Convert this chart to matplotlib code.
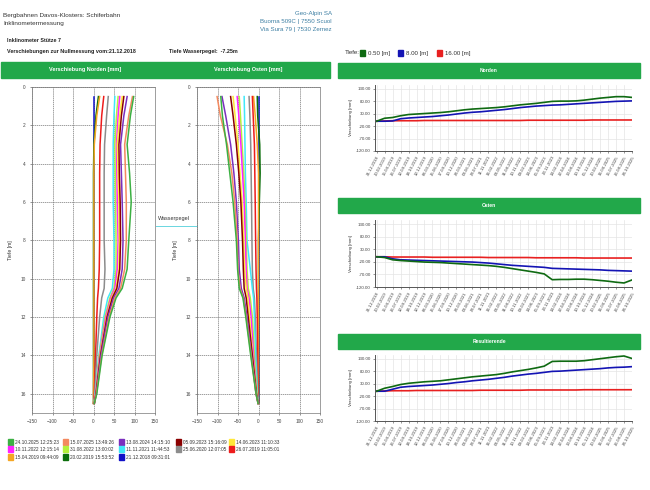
import matplotlib.pyplot as plt
import matplotlib.transforms as mtransforms
from matplotlib.patches import Rectangle

plt.rcParams['font.family'] = ['Liberation Sans', 'DejaVu Sans']

W, H = 650, 490  # Bildgroesse in Pixel

# ---- Profil-Daten (Tiefe in m, Verschiebung in mm) ----
depth = [0.5, 1.5, 3, 4.5, 6, 8, 9.5, 10.5, 11, 12, 14, 16, 16.5]

mess_dates = ['24.10.2025 12:25:23', '15.07.2025 13:49:26', '13.08.2024 14:15:10',
              '05.09.2023 15:16:09', '14.06.2023 11:10:33', '10.11.2022 12:15:14',
              '31.08.2022 13:00:02', '11.11.2021 11:44:53', '25.06.2020 12:07:05',
              '26.07.2019 11:05:01', '15.04.2019 09:44:09', '20.02.2019 15:53:52',
              '21.12.2018 09:31:01']
mess_colors = ['#3cb043', '#f4895f', '#7b2fbe', '#8b0000', '#ffe83a', '#ff22ff',
               '#b4f03c', '#40e8f8', '#8c8c8c', '#ee1c1c', '#f5a623', '#0b6e0b',
               '#1010c8']

# Norden
nord_20251024 = [98, 90, 82, 88, 92, 86, 82, 70, 55, 40, 21, 8, 2]
nord_20250715 = [95, 86, 76, 78, 80, 80, 76, 66, 52, 38, 20, 7, 2]
nord_20240813 = [82, 74, 66, 68, 70, 72, 70, 62, 49, 35, 18, 7, 2]
nord_20230905 = [74, 68, 62, 63, 65, 66, 64, 57, 46, 33, 17, 6, 2]
nord_20230614 = [70, 64, 58, 60, 62, 63, 62, 55, 44, 32, 16, 6, 2]
nord_20221110 = [64, 60, 56, 57, 58, 60, 58, 52, 42, 30, 15, 5, 2]
nord_20220831 = [60, 56, 52, 53, 54, 55, 55, 50, 40, 28, 14, 5, 1]
nord_20211111 = [52, 50, 48, 48, 48, 50, 50, 46, 35, 25, 13, 4, 1]
nord_20200625 = [36, 32, 27, 26, 26, 26, 28, 26, 20, 15, 8, 3, 1]
nord_20190726 = [25, 20, 16, 15, 15, 15, 14, 12, 10, 8, 5, 2, 0]
nord_20190415 = [15, 8, 2, 1, 1, 1, 1, 1, 1, 1, 1, 0, 0]
nord_20190220 = [12, 6, 1, 0, 0, 0, 0, 0, 0, 0, 0, 0, 0]
nord_20181221 = [0, 0, 0, 0, 0, 0, 0, 0, 0, 0, 0, 0, 0]

# Osten
ost_20251024 = [-92, -88, -78, -70, -62, -54, -51, -47, -38, -31, -19, -6, -1]
ost_20250715 = [-101, -93, -76, -65, -58, -52, -50, -45, -37, -30, -18, -6, -1]
ost_20240813 = [-89, -80, -68, -60, -54, -49, -47, -42, -35, -28, -17, -6, -1]
ost_20230905 = [-68, -62, -54, -48, -43, -39, -37, -35, -30, -25, -15, -5, -1]
ost_20230614 = [-62, -57, -50, -45, -40, -36, -34, -30, -26, -22, -14, -5, -1]
ost_20221110 = [-52, -48, -43, -39, -35, -32, -30, -28, -23, -18, -12, -5, -1]
ost_20220831 = [-47, -44, -40, -36, -33, -30, -28, -25, -20, -15, -10, -4, -1]
ost_20211111 = [-35, -34, -33, -32, -30, -28, -20, -15, -12, -10, -7, -3, -1]
ost_20200625 = [-23, -21, -19, -18, -17, -16, -15, -13, -10, -8, -5, -2, 0]
ost_20190726 = [-15, -13, -10, -9, -8, -7, -6, -5, -4, -3, -2, -1, 0]
ost_20190415 = [-12, -8, -3, 0, 0, 0, 0, 0, 0, 0, 0, 0, 0]
ost_20190220 = [-3, -2, 3, 4, 2, 0, 0, 0, 0, 0, 0, 0, 0]
ost_20181221 = [0, 0, 0, 0, 0, 0, 0, 0, 0, 0, 0, 0, 0]

nord_profiles = [nord_20251024, nord_20250715, nord_20240813, nord_20230905, nord_20230614,
                 nord_20221110, nord_20220831, nord_20211111, nord_20200625, nord_20190726,
                 nord_20190415, nord_20190220, nord_20181221]
ost_profiles = [ost_20251024, ost_20250715, ost_20240813, ost_20230905, ost_20230614,
                ost_20221110, ost_20220831, ost_20211111, ost_20200625, ost_20190726,
                ost_20190415, ost_20190220, ost_20181221]

# ---- Zeitreihen (Tiefe 0.50 / 8.00 / 16.00 m) ----
ts_dates = ['21.12.2018', '20.02.2019', '15.04.2019', '26.07.2019', '12.09.2019', '18.10.2019',
            '12.12.2019', '06.03.2020', '25.06.2020', '17.09.2020', '10.12.2020', '24.03.2021',
            '08.06.2021', '28.07.2021', '11.11.2021', '16.02.2022', '04.05.2022', '31.08.2022',
            '10.11.2022', '09.02.2023', '14.06.2023', '05.09.2023', '23.11.2023', '14.02.2024',
            '22.04.2024', '13.08.2024', '10.10.2024', '05.12.2024', '20.02.2025', '16.04.2025',
            '15.07.2025', '26.08.2025', '24.10.2025']

n_050 = [0, 12, 15, 22, 27, 29, 31, 33, 35, 38, 42, 46, 49, 51, 53, 55, 58, 62, 66, 69, 72,
         76, 80, 81, 81, 82, 85, 89, 93, 96, 99, 99, 96]
n_800 = [0, 0, 1, 10, 13, 15, 17, 19, 22, 25, 29, 33, 36, 38, 41, 44, 47, 51, 55, 58, 61,
         63, 65, 66, 68, 70, 72, 74, 76, 78, 80, 81, 82]
n_1600 = [0, 1, 2, 2, 2, 2, 3, 3, 3, 3, 3, 3, 3, 3, 3, 3, 3, 3, 3, 4, 4, 4, 4, 4, 4, 4, 4,
          5, 5, 5, 5, 5, 5]

o_050 = [0, -3, -12, -15, -17, -19, -21, -22, -23, -25, -27, -29, -31, -33, -35, -38, -42,
         -47, -52, -57, -62, -68, -91, -90, -90, -89, -89, -91, -94, -97, -101, -104, -92]
o_800 = [0, 0, -8, -12, -13, -14, -15, -16, -17, -18, -19, -20, -21, -23, -25, -28, -31,
         -34, -36, -38, -40, -42, -46, -47, -48, -49, -50, -51, -52, -54, -55, -56, -57]
o_1600 = [0, 0, -1, -1, -1, -1, -1, -2, -2, -2, -2, -2, -2, -2, -3, -3, -3, -3, -3, -3, -4,
          -4, -4, -4, -4, -4, -5, -5, -5, -5, -5, -5, -5]

r_050 = [0, 12, 19, 27, 32, 35, 38, 40, 42, 46, 50, 54, 58, 61, 64, 67, 72, 78, 83, 88, 94,
         101, 120, 121, 121, 121, 123, 127, 131, 135, 139, 142, 132]
r_800 = [0, 0, 8, 16, 19, 21, 23, 25, 28, 31, 35, 38, 42, 45, 48, 52, 56, 61, 65, 69, 72,
         76, 80, 81, 83, 85, 87, 89, 91, 94, 96, 97, 99]
r_1600 = [0, 1, 2, 2, 2, 3, 3, 3, 3, 3, 3, 3, 3, 4, 4, 4, 4, 4, 4, 5, 5, 5, 5, 5, 5, 5, 6,
          6, 6, 6, 6, 6, 6]

ts_labels = ['0.50 [m]', '8.00 [m]', '16.00 [m]']
ts_colors = ['#0f6a12', '#1414b4', '#e82020']

GREEN = '#22a84a'


def rect(l, t, r, b):
    # Pixel-Rechteck -> Figurenkoordinaten
    return [l / W, 1 - b / H, (r - l) / W, (b - t) / H]


def ftext(x, y, s, **kw):
    fig.text(x / W, 1 - y / H, s, **kw)


def fbox(l, t, r, b, color):
    fig.patches.append(Rectangle((l / W, 1 - b / H), (r - l) / W, (b - t) / H,
                                 transform=fig.transFigure, color=color, zorder=0))


fig = plt.figure(figsize=(W / 100, H / 100), dpi=100)

# ---- Kopfzeilen ----
ftext(3, 15, 'Bergbahnen Davos-Klosters: Schiferbahn', fontsize=4.6, color='#333', va='center')
ftext(3, 24, 'Inklinometermessung', fontsize=4.6, color='#333', va='center')
ftext(332, 13, 'Geo-Alpin SA', fontsize=4.4, color='#3d7fa3', va='center', ha='right')
ftext(332, 21, 'Buorna 509C | 7550 Scuol', fontsize=4.4, color='#3d7fa3', va='center', ha='right')
ftext(332, 29, 'Via Sura 79 | 7530 Zernez', fontsize=4.4, color='#3d7fa3', va='center', ha='right')
ftext(7, 40, 'Inklinometer Stütze 7', fontsize=3.8, fontweight='bold', color='#222', va='center')
ftext(7, 52, 'Verschiebungen zur Nullmessung vom:21.12.2018', fontsize=3.9,
      fontweight='bold', color='#222', va='center')
ftext(169, 52, 'Tiefe Wasserpegel:  -7.25m', fontsize=3.9, fontweight='bold', color='#222', va='center')

# gruene Titelbalken
fbox(1, 62, 330, 78, GREEN)
ftext(85, 70, 'Verschiebung Norden [mm]', fontsize=4, color='white', fontweight='bold', ha='center', va='center')
ftext(248, 70, 'Verschiebung Osten [mm]', fontsize=4, color='white', fontweight='bold', ha='center', va='center')
for top, title in [(63, 'Norden'), (198, 'Osten'), (334, 'Resultierende')]:
    fbox(338, top, 640, top + 15, GREEN)
    ftext(489, top + 7.5, title, fontsize=3.6, color='white', fontweight='bold', ha='center', va='center')

# ---- Profil-Diagramme ----
ax_n = fig.add_axes(rect(32, 87, 155, 413))
ax_o = fig.add_axes(rect(197, 87, 320, 413))
for ax, profiles in [(ax_n, nord_profiles), (ax_o, ost_profiles)]:
    for vals, col in zip(profiles[::-1], mess_colors[::-1]):
        ax.plot(vals, depth, color=col, lw=1.1)
    ax.set_xlim(-150, 150)
    ax.set_ylim(17, 0)
    ax.set_xticks(range(-150, 151, 50))
    ax.set_yticks(range(0, 17, 2))
    ax.grid(True, color='#777', ls=(0, (2, 1)), lw=0.5)
    for sp in ax.spines.values():
        sp.set_linestyle((0, (2, 1)))
        sp.set_linewidth(0.5)
        sp.set_color('#777')
    ax.tick_params(labelsize=3.4, length=1.5, width=0.4, colors='#444', pad=3)
    ax.set_ylabel('Tiefe [m]', fontsize=3.6, color='#333', labelpad=5)

# Wasserpegel
blend = mtransforms.blended_transform_factory(ax_o.transAxes, ax_o.transData)
ax_o.plot([-0.33, 0], [7.25, 7.25], transform=blend, color='#6ad6e0', lw=0.7, clip_on=False)
ax_o.text(-0.32, 6.85, 'Wasserpegel', transform=blend, fontsize=4, color='#333', va='center')

# ---- Zeitreihen ----
x_idx = list(range(len(ts_dates)))
series = [(89, 151, [n_050, n_800, n_1600]),
          (224, 287, [o_050, o_800, o_1600]),
          (359, 421, [r_050, r_800, r_1600])]
for top130, bot, data in series:
    ax = fig.add_axes(rect(375, top130 - 4, 632, bot))
    for vals, col in zip(data[::-1], ts_colors[::-1]):
        ax.plot(x_idx, vals, color=col, lw=1.2)
    ax.set_xlim(-0.2, 32)
    ax.set_ylim(-120, 146)
    ax.set_yticks(range(-120, 131, 50))
    ax.set_yticklabels(['%.2f' % v for v in range(-120, 131, 50)])
    ax.set_xticks(x_idx)
    ax.set_xticklabels(ts_dates, rotation=62, ha='right', rotation_mode='anchor')
    ax.grid(True, color='#e4e4e4', lw=0.5)
    ax.spines['top'].set_visible(False)
    ax.spines['right'].set_visible(False)
    ax.spines['left'].set_color('#555')
    ax.spines['bottom'].set_color('#555')
    ax.spines['left'].set_linewidth(0.7)
    ax.spines['bottom'].set_linewidth(0.7)
    ax.tick_params(labelsize=3.2, length=1.5, width=0.4, colors='#444', pad=1.5)
    ax.set_ylabel('Verschiebung [mm]', fontsize=3.2, color='#333', labelpad=2)

# Legende Tiefen (oben rechts)
ftext(345, 53, 'Tiefe:', fontsize=4.4, color='#333', va='center')
for xs, lab, col in zip([360, 398, 437], ts_labels, ts_colors):
    fbox(xs, 50, xs + 5, 56, col)
    ftext(xs + 8, 53, lab, fontsize=4.4, color='#333', va='center')

# Legende Messungen (unten links)
col_x = [8, 63, 119, 176, 229]
row_y = [442, 449, 457]
for i, (lab, col) in enumerate(zip(mess_dates, mess_colors)):
    cx = col_x[i % 5]
    cy = row_y[i // 5]
    fbox(cx, cy - 3, cx + 5, cy + 3, col)
    ftext(cx + 7, cy, lab, fontsize=3.4, color='#333', va='center')

plt.savefig('out.png', dpi=100)
